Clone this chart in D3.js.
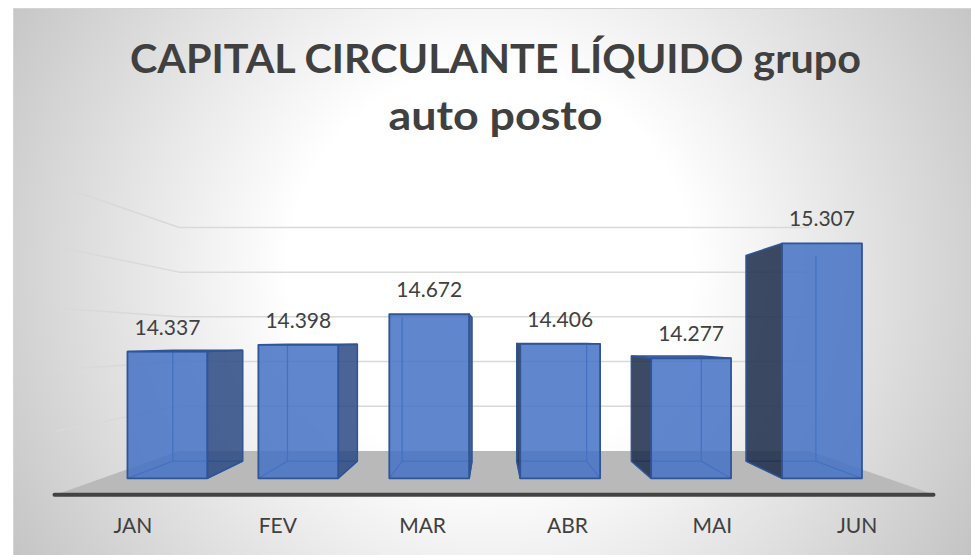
<!DOCTYPE html>
<html>
<head>
<meta charset="utf-8">
<script src="https://cdn.jsdelivr.net/npm/d3@7"></script>
<style>
  html, body { margin: 0; padding: 0; background: #fff; }
  svg { display: block; }
</style>
</head>
<body>
<div id="chart"></div>
<script>
// dados do gráfico
var titleLines = ['CAPITAL CIRCULANTE LÍQUIDO grupo', 'auto posto'];
var categories = ['JAN', 'FEV', 'MAR', 'ABR', 'MAI', 'JUN'];
var values = [14337, 14398, 14672, 14406, 14277, 15307];
var gridTicks = [13200, 13700, 14200, 14700, 15200, 15700];

var width = 971, height = 555;
var vp = { x: 492, y: 340 };          // ponto de fuga da perspectiva
var depth = { front: 1, back: 0.725, barFront: 0.904, barBack: 0.7915 };

var ptBR = d3.formatLocale({ decimal: ',', thousands: '.', grouping: [3], currency: ['R$', ''] });
var fmt = ptBR.format(',.0f');

var svg = d3.select('#chart').append('svg')
  .attr('width', width)
  .attr('height', height);

// fundo com gradiente radial
var defs = svg.append('defs');
var bg = defs.append('radialGradient')
  .attr('id', 'bgGrad')
  .attr('gradientUnits', 'userSpaceOnUse')
  .attr('cx', 490).attr('cy', 270).attr('r', 560);
bg.selectAll('stop')
  .data([{ o: 0, c: '#ffffff' }, { o: 0.36, c: '#ffffff' }, { o: 1, c: '#c4c4c4' }])
  .enter().append('stop')
  .attr('offset', function (d) { return d.o * 100 + '%'; })
  .style('stop-color', function (d) { return d.c; });

svg.append('rect')
  .attr('x', 13.5).attr('y', 8.5)
  .attr('width', 970).attr('height', 560)
  .style('fill', 'url(#bgGrad)')
  .style('stroke', '#d4d4d4')
  .style('stroke-width', 1);

// escalas no plano frontal
var x = d3.scaleBand()
  .domain(categories)
  .range([60.5, 929.5])
  .paddingInner(0.39)
  .paddingOuter(0.195);
var y = d3.scaleLinear()
  .domain([gridTicks[0], gridTicks[gridTicks.length - 1]])
  .range([493, 184.75]);

function P(px, py, s) {
  return [vp.x + (px - vp.x) * s, vp.y + (py - vp.y) * s];
}
function poly(pts) {
  return 'M' + pts.map(function (p) { return p[0].toFixed(2) + ',' + p[1].toFixed(2); }).join('L') + 'Z';
}

var xr = x.range();
var y0 = y(gridTicks[0]);

// piso
svg.append('path')
  .attr('d', poly([P(xr[0], y0, depth.front), P(xr[1], y0, depth.front),
                   P(xr[1], y0, depth.back), P(xr[0], y0, depth.back)]))
  .style('fill', '#b9b9b9');

// linhas de grade: parede do fundo e parede esquerda
var grid = svg.append('g').style('fill', 'none').style('stroke', '#d9d9d9').style('stroke-width', 1.5);
grid.selectAll('line.back')
  .data(gridTicks.slice(1))
  .enter().append('line')
  .attr('class', 'back')
  .attr('x1', function (t) { return P(xr[0], y(t), depth.back)[0]; })
  .attr('y1', function (t) { return P(xr[0], y(t), depth.back)[1]; })
  .attr('x2', function (t) { return P(xr[1], y(t), depth.back)[0]; })
  .attr('y2', function (t) { return P(xr[1], y(t), depth.back)[1]; });
grid.selectAll('line.side')
  .data(gridTicks.slice(1))
  .enter().append('line')
  .attr('class', 'side')
  .attr('x1', function (t) { return P(xr[0] - 5, y(t), depth.front)[0]; })
  .attr('y1', function (t) { return P(xr[0] - 5, y(t), depth.front)[1]; })
  .attr('x2', function (t) { return P(xr[0], y(t), depth.back)[0]; })
  .attr('y2', function (t) { return P(xr[0], y(t), depth.back)[1]; });

// borda frontal do piso
svg.append('line')
  .attr('x1', xr[0] - 6).attr('y1', y0 + 1.7)
  .attr('x2', xr[1] + 4).attr('y2', y0 + 1.7)
  .style('stroke', '#434343')
  .style('stroke-width', 4)
  .style('stroke-linecap', 'round');

// colunas 3D
var bw = x.bandwidth();
var bars = svg.selectAll('g.bar')
  .data(values)
  .enter().append('g')
  .attr('class', 'bar');

bars.each(function (v, i) {
  var g = d3.select(this);
  var x0 = x(categories[i]), x1 = x0 + bw, yt = y(v);
  var sf = depth.barFront, sb = depth.barBack;
  var fLB = P(x0, y0, sf), fRB = P(x1, y0, sf), fRT = P(x1, yt, sf), fLT = P(x0, yt, sf);
  var bLB = P(x0, y0, sb), bRB = P(x1, y0, sb), bRT = P(x1, yt, sb), bLT = P(x0, yt, sb);
  var rightVisible = (x0 + bw / 2) < vp.x;

  // arestas internas (vistas através da transparência)
  var hidden = rightVisible
    ? [[bLB, bLT], [bLB, bRB], [fLB, bLB], [bRB, fRB]]
    : [[bRB, bRT], [bLB, bRB], [fRB, bRB], [bLB, fLB]];
  g.selectAll('line.inner')
    .data(hidden)
    .enter().append('line')
    .attr('class', 'inner')
    .attr('x1', function (d) { return d[0][0]; })
    .attr('y1', function (d) { return d[0][1]; })
    .attr('x2', function (d) { return d[1][0]; })
    .attr('y2', function (d) { return d[1][1]; })
    .style('stroke', '#3c6cc0')
    .style('stroke-width', 1.3);

  // face lateral visível
  var side = rightVisible ? [fRB, bRB, bRT, fRT] : [bLB, fLB, fLT, bLT];
  g.append('path')
    .attr('d', poly(side))
    .style('fill', rightVisible ? '#2a4a82' : '#1b2a48')
    .style('fill-opacity', 0.85)
    .style('stroke', '#2f5597')
    .style('stroke-width', 1.5)
    .style('stroke-linejoin', 'round');

  // topo (só aparece quando está abaixo do ponto de fuga)
  if (yt > vp.y) {
    g.append('path')
      .attr('d', poly([fLT, fRT, bRT, bLT]))
      .style('fill', '#4a78c8')
      .style('fill-opacity', 0.9)
      .style('stroke', '#2f5597')
      .style('stroke-width', 1.5);
  }

  // face frontal
  g.append('path')
    .attr('d', poly([fLB, fRB, fRT, fLT]))
    .style('fill', '#4472c4')
    .style('fill-opacity', 0.85)
    .style('stroke', '#2f5597')
    .style('stroke-width', 1.8)
    .style('stroke-linejoin', 'round');

  // rótulo do valor
  var lp = P(x0 + bw / 2, yt, sf);
  g.append('text')
    .attr('x', lp[0])
    .attr('y', lp[1] - 17)
    .attr('text-anchor', 'middle')
    .style('font-family', 'Lato, "Open Sans", sans-serif')
    .style('font-size', '21px')
    .style('fill', '#404040')
    .text(fmt(v));
});

// rótulos do eixo
svg.selectAll('text.cat')
  .data(categories)
  .enter().append('text')
  .attr('class', 'cat')
  .attr('x', function (c) { return x(c) + bw / 2; })
  .attr('y', 533)
  .attr('text-anchor', 'middle')
  .style('font-family', 'Lato, "Open Sans", sans-serif')
  .style('font-size', '21px')
  .style('fill', '#404040')
  .text(function (c) { return c; });

// título
var titleWidths = [731, 214];
svg.selectAll('text.title')
  .data(titleLines)
  .enter().append('text')
  .attr('class', 'title')
  .attr('x', 495.5)
  .attr('y', function (d, i) { return 73 + i * 57; })
  .attr('text-anchor', 'middle')
  .attr('textLength', function (d, i) { return titleWidths[i]; })
  .attr('lengthAdjust', 'spacingAndGlyphs')
  .style('font-family', 'Lato, "Open Sans", sans-serif')
  .style('font-weight', 'bold')
  .style('font-size', '40px')
  .style('fill', '#404040')
  .text(function (d) { return d; });
</script>
</body>
</html>
